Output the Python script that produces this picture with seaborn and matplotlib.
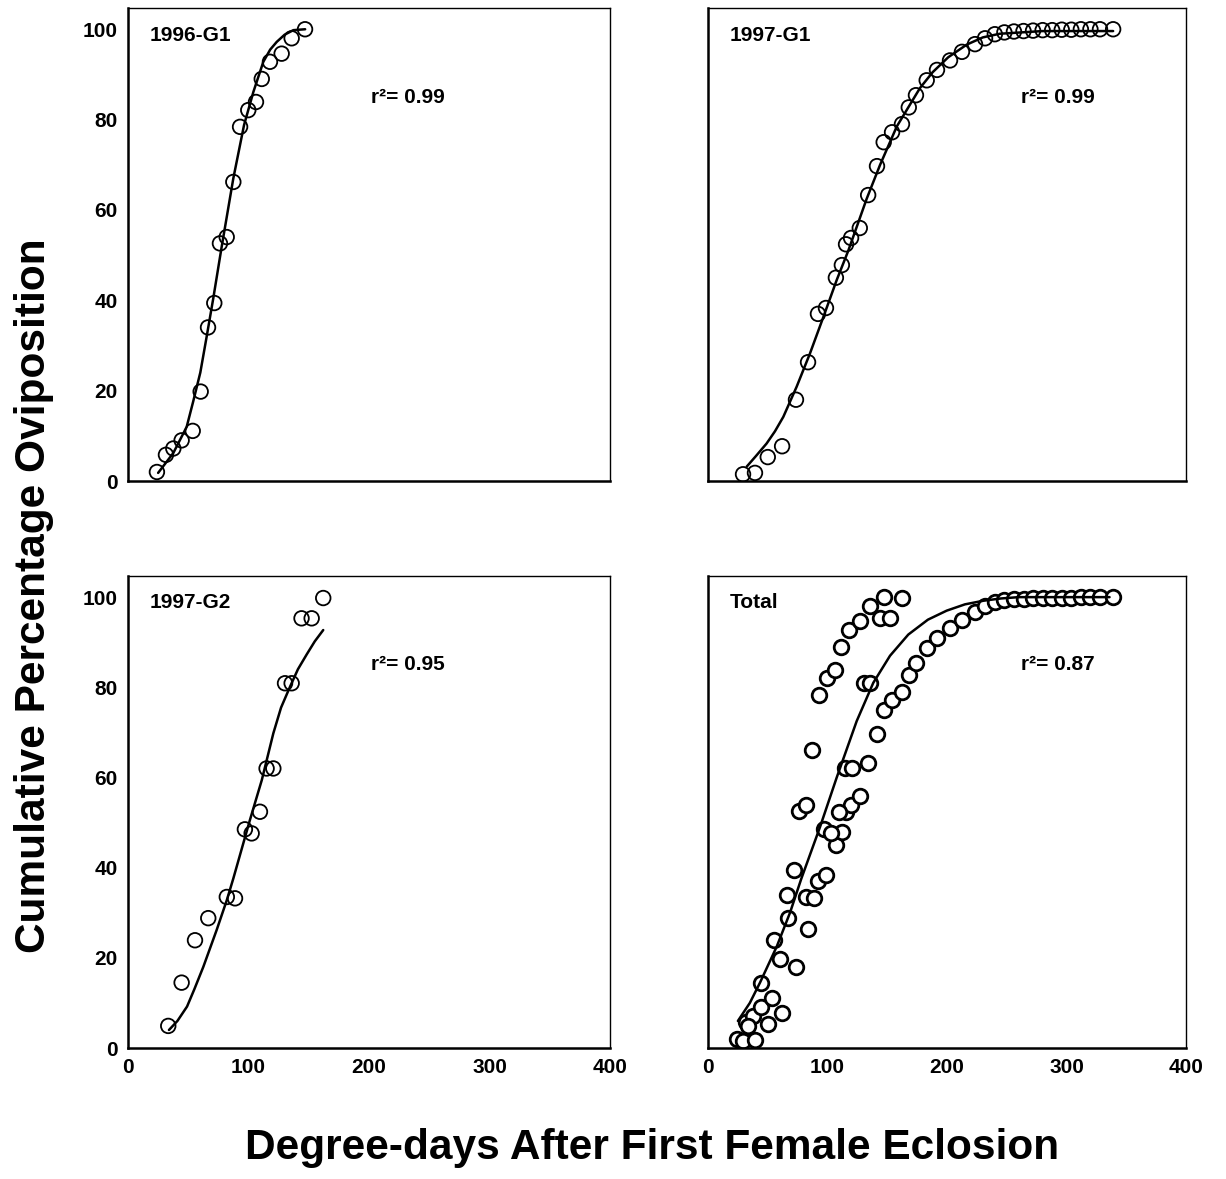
import matplotlib
matplotlib.use("Agg")
import matplotlib.pyplot as plt
import seaborn as sns
import pandas as pd

# 1996-G1 obserwacje
g96_x = [24, 31.5, 37.6, 44.5, 53.7, 60.3, 66.4, 71.6, 76.3, 81.9, 87.4, 93, 99.8, 106.2, 111, 117.8, 127.5, 135.8, 146.9]
g96_y = [2, 5.8, 7.2, 9, 11.1, 19.8, 34, 39.4, 52.6, 54, 66.2, 78.4, 82.1, 83.9, 89, 92.8, 94.6, 98, 100]
g96_fit_x = [25, 37.6, 48.7, 54, 60, 65.3, 70.8, 77.7, 87.4, 96.3, 104, 112.3, 118, 123.4, 130, 137.2, 147]
g96_fit_y = [1.8, 6.2, 12, 17.5, 24, 32, 40.5, 51.8, 67, 78.8, 86.1, 92.8, 95.5, 97.2, 98.8, 99.8, 100]

# 1997-G1
g97a_x = [29.3, 39.3, 50, 62, 73.6, 83.7, 92, 98.7, 107, 112, 115.5, 119.7, 127, 134, 141.4, 147, 154,
          162.3, 168, 174, 183, 191.6, 202.5, 212.5, 223.4, 231.8, 240, 248, 256, 264, 272, 280, 288,
          296, 304, 312, 320, 328, 339]
g97a_y = [1.5, 1.8, 5.3, 7.7, 18, 26.3, 37, 38.3, 45, 47.8, 52.4, 53.8, 56, 63.3, 69.7, 75, 77.2,
          79, 82.7, 85.4, 88.7, 91, 93.1, 95, 96.7, 98, 98.9, 99.3, 99.5, 99.6, 99.7, 99.8, 99.8,
          99.9, 99.9, 100, 100, 100, 100]
g97a_fit_x = [32.4, 40, 49, 56, 63, 74.2, 85.4, 96.5, 107.7, 117.4, 132.8, 144, 158, 177.4, 188, 201, 216.5, 230, 244, 280, 339]
g97a_fit_y = [3.2, 5.5, 8.3, 11, 14.2, 20.9, 28.3, 36.3, 44.5, 51, 62.5, 70, 78.5, 87, 90.5, 93.8, 96.6, 98.2, 99, 99.6, 99.6]

# 1997-G2
g97b_x = [33.4, 44.5, 55.6, 66.6, 82, 88.8, 97, 102.6, 109.5, 115, 120.6, 130.3, 135.8, 144, 152.4, 162]
g97b_y = [4.9, 14.5, 23.9, 28.8, 33.5, 33.2, 48.5, 47.6, 52.4, 62, 62, 80.9, 80.9, 95.3, 95.3, 99.8]
g97b_fit_x = [34, 41, 49, 55, 62.5, 73.6, 82, 87.4, 101.2, 111, 120.6, 127, 134.4, 141, 148.3, 155, 162]
g97b_fit_y = [4, 6, 9.2, 13, 18, 26.2, 32.8, 37.6, 50.6, 59.4, 69.8, 75.5, 80.1, 84, 87.3, 90.2, 92.7]

# Total - dopasowanie
tot_fit_x = [25, 35, 43.5, 57.5, 68.6, 78, 93.7, 107.7, 124.4, 138.3, 152.3, 167.6, 184, 199.7, 215, 230.4, 245, 260, 336]
tot_fit_y = [6, 10, 14.5, 22.5, 30, 37.5, 49, 60, 72.5, 81, 87, 91.7, 95, 97, 98.4, 99.2, 99.7, 100, 100]

panels = [
    ("1996-G1", "r²= 0.99", g96_x, g96_y, g96_fit_x, g96_fit_y),
    ("1997-G1", "r²= 0.99", g97a_x, g97a_y, g97a_fit_x, g97a_fit_y),
    ("1997-G2", "r²= 0.95", g97b_x, g97b_y, g97b_fit_x, g97b_fit_y),
    ("Total", "r²= 0.87", g96_x + g97a_x + g97b_x, g96_y + g97a_y + g97b_y, tot_fit_x, tot_fit_y),
]

sns.set_style("white")
plt.rcParams['font.family'] = ['Liberation Sans', 'DejaVu Sans']
plt.rcParams['font.weight'] = 'bold'
plt.rcParams['text.color'] = 'black'
plt.rcParams['xtick.color'] = 'black'
plt.rcParams['ytick.color'] = 'black'
plt.rcParams['axes.labelcolor'] = 'black'

fig = plt.figure(figsize=(12.26, 11.79), dpi=100)
positions = [
    [0.1044, 0.592, 0.3932, 0.4012],
    [0.5775, 0.592, 0.3899, 0.4012],
    [0.1044, 0.1111, 0.3932, 0.4004],
    [0.5775, 0.1111, 0.3899, 0.4004],
]

for i, (name, r2, px, py, fx, fy) in enumerate(panels):
    ax = fig.add_axes(positions[i])
    pts = pd.DataFrame({"x": px, "y": py})
    fit = pd.DataFrame({"x": fx, "y": fy})
    face = "white" if name == "Total" else "none"
    lw = 2.0 if name == "Total" else 1.3
    sns.scatterplot(data=pts, x="x", y="y", ax=ax, marker="o", s=110,
                    facecolor=face, edgecolor="black", linewidth=lw, zorder=2)
    sns.lineplot(data=fit, x="x", y="y", ax=ax, color="black", lw=1.8, zorder=3)

    ax.set_xlim(0, 400)
    ax.set_ylim(0, 104.7)
    ax.set_xticks([0, 100, 200, 300, 400])
    ax.set_yticks([0, 20, 40, 60, 80, 100])
    ax.set_xlabel("")
    ax.set_ylabel("")
    ax.tick_params(direction="out", length=4, width=1.2, labelsize=15, colors="black")
    for lab in ax.get_xticklabels() + ax.get_yticklabels():
        lab.set_fontweight("bold")
    if i < 2:
        ax.set_xticklabels([])
    if i % 2 == 1:
        ax.set_yticklabels([])
    for side in ["left", "bottom"]:
        ax.spines[side].set_linewidth(1.8)
    for side in ["top", "right"]:
        ax.spines[side].set_linewidth(1.0)
    for sp in ax.spines.values():
        sp.set_color("black")

    ax.text(18, 98.7, name, fontsize=15, fontweight="bold", ha="left", va="center", color="black")
    rx = 202 if i % 2 == 0 else 262
    ax.text(rx, 85, r2, fontsize=15, fontweight="bold", ha="left", va="center", color="black")

fig.text(0.028, 0.495, "Cumulative Percentage Oviposition", rotation=90,
         fontsize=30.5, fontweight="bold", ha="center", va="center", color="black")
fig.text(0.532, 0.026, "Degree-days After First Female Eclosion",
         fontsize=30.5, fontweight="bold", ha="center", va="center", color="black")

plt.savefig("out.png", dpi=100)
